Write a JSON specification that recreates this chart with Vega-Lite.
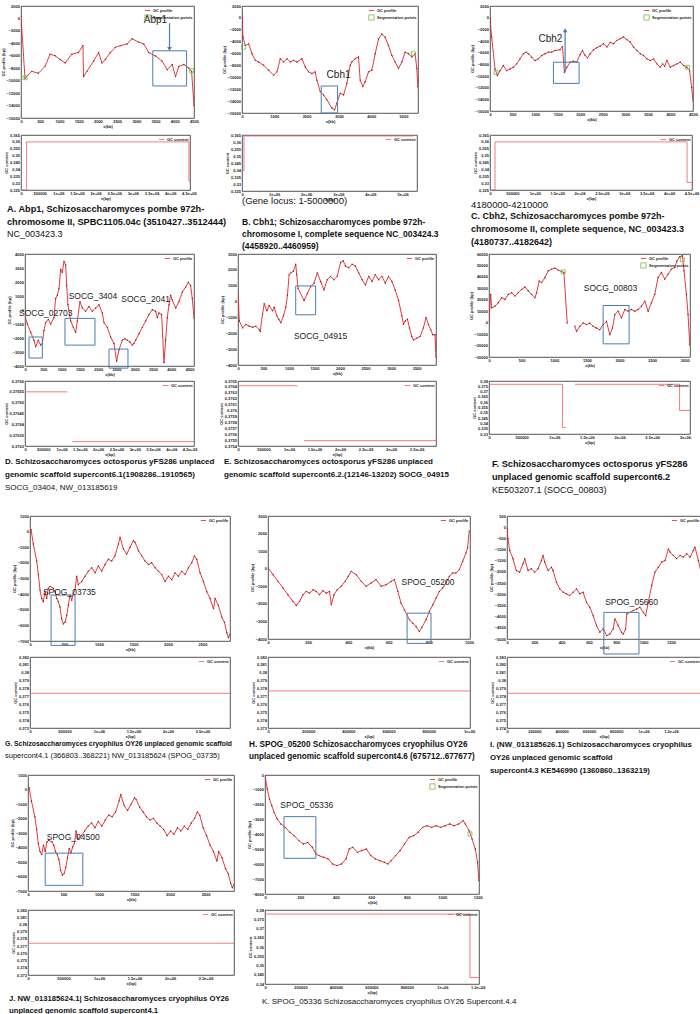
{
"$schema": "https://vega.github.io/schema/vega-lite/v6.json",
"padding": 0,
"config": {
 "view": {"stroke": "#2a2a2a", "strokeWidth": 0.8},
 "axis": {"grid": false, "domain": false, "ticks": false, "labelFont": "Liberation Sans", "labelFontSize": 4, "labelFontWeight": "bold", "labelColor": "#1a1a1a", "labelPadding": 1.5, "titleFont": "Liberation Sans", "titleFontSize": 4, "titleFontWeight": "bold", "titleColor": "#1a1a1a", "titlePadding": 1, "labelOverlap": false, "labelFlush": false},
 "legend": {"orient": "top-right", "labelFont": "Liberation Sans", "labelFontSize": 4, "labelFontWeight": "bold", "labelColor": "#1a1a1a", "symbolSize": 28, "symbolStrokeWidth": 0.8, "padding": 0, "rowPadding": 0, "offset": 1, "labelOffset": 2},
 "title": {"font": "Liberation Sans", "color": "#111111", "anchor": "start", "orient": "bottom", "frame": "group", "subtitleFont": "Liberation Sans", "subtitleColor": "#111111"},
 "text": {"font": "Liberation Sans"}
},
"datasets": {
 "prof": [
  {"p":"A","s":1,"x":0,"y":340},{"p":"A","s":1,"x":104,"y":-9630},{"p":"A","s":1,"x":278,"y":-8500},{"p":"A","s":1,"x":452,"y":-8800},{"p":"A","s":1,"x":626,"y":-7700},{"p":"A","s":1,"x":757,"y":-5750},{"p":"A","s":1,"x":887,"y":-6000},{"p":"A","s":1,"x":1018,"y":-6600},{"p":"A","s":1,"x":1148,"y":-7150},{"p":"A","s":1,"x":1322,"y":-5750},{"p":"A","s":1,"x":1496,"y":-5480},{"p":"A","s":1,"x":1610,"y":-4370},{"p":"A","s":1,"x":1627,"y":-9350},{"p":"A","s":1,"x":1714,"y":-8500},{"p":"A","s":1,"x":1888,"y":-6860},{"p":"A","s":1,"x":2018,"y":-5480},{"p":"A","s":1,"x":2105,"y":-7150},{"p":"A","s":1,"x":2192,"y":-6600},{"p":"A","s":1,"x":2323,"y":-5480},{"p":"A","s":1,"x":2453,"y":-4650},{"p":"A","s":1,"x":2584,"y":-4370},{"p":"A","s":1,"x":2758,"y":-4100},{"p":"A","s":1,"x":2888,"y":-3260},{"p":"A","s":1,"x":3062,"y":-3800},{"p":"A","s":1,"x":3193,"y":-4100},{"p":"A","s":1,"x":3323,"y":-5480},{"p":"A","s":1,"x":3497,"y":-6030},{"p":"A","s":1,"x":3671,"y":-6860},{"p":"A","s":1,"x":3802,"y":-8250},{"p":"A","s":1,"x":3932,"y":-7400},{"p":"A","s":1,"x":4019,"y":-9350},{"p":"A","s":1,"x":4106,"y":-7700},{"p":"A","s":1,"x":4237,"y":-7400},{"p":"A","s":1,"x":4367,"y":-7970},{"p":"A","s":1,"x":4437,"y":-8500},{"p":"A","s":1,"x":4500,"y":-14000},
  {"p":"B","s":1,"x":0,"y":615},{"p":"B","s":1,"x":31,"y":-3260},{"p":"B","s":1,"x":103,"y":-4650},{"p":"B","s":1,"x":206,"y":-4370},{"p":"B","s":1,"x":309,"y":-6030},{"p":"B","s":1,"x":412,"y":-7140},{"p":"B","s":1,"x":515,"y":-7420},{"p":"B","s":1,"x":670,"y":-7970},{"p":"B","s":1,"x":825,"y":-8800},{"p":"B","s":1,"x":979,"y":-9630},{"p":"B","s":1,"x":1082,"y":-9080},{"p":"B","s":1,"x":1186,"y":-6860},{"p":"B","s":1,"x":1289,"y":-7420},{"p":"B","s":1,"x":1392,"y":-6860},{"p":"B","s":1,"x":1495,"y":-7420},{"p":"B","s":1,"x":1598,"y":-7140},{"p":"B","s":1,"x":1701,"y":-7420},{"p":"B","s":1,"x":1856,"y":-6860},{"p":"B","s":1,"x":1959,"y":-8250},{"p":"B","s":1,"x":2062,"y":-9080},{"p":"B","s":1,"x":2165,"y":-9360},{"p":"B","s":1,"x":2268,"y":-9080},{"p":"B","s":1,"x":2320,"y":-10470},{"p":"B","s":1,"x":2423,"y":-12400},{"p":"B","s":1,"x":2526,"y":-12960},{"p":"B","s":1,"x":2629,"y":-13790},{"p":"B","s":1,"x":2784,"y":-15170},{"p":"B","s":1,"x":2866,"y":-15450},{"p":"B","s":1,"x":2938,"y":-14340},{"p":"B","s":1,"x":3041,"y":-12680},{"p":"B","s":1,"x":3145,"y":-12960},{"p":"B","s":1,"x":3248,"y":-11020},{"p":"B","s":1,"x":3351,"y":-7970},{"p":"B","s":1,"x":3402,"y":-7420},{"p":"B","s":1,"x":3505,"y":-6860},{"p":"B","s":1,"x":3608,"y":-6590},{"p":"B","s":1,"x":3660,"y":-10470},{"p":"B","s":1,"x":3742,"y":-11570},{"p":"B","s":1,"x":3815,"y":-10740},{"p":"B","s":1,"x":3918,"y":-9080},{"p":"B","s":1,"x":4021,"y":-8800},{"p":"B","s":1,"x":4124,"y":-6030},{"p":"B","s":1,"x":4227,"y":-3540},{"p":"B","s":1,"x":4330,"y":-2710},{"p":"B","s":1,"x":4433,"y":-3260},{"p":"B","s":1,"x":4536,"y":-4650},{"p":"B","s":1,"x":4640,"y":-6310},{"p":"B","s":1,"x":4743,"y":-7420},{"p":"B","s":1,"x":4846,"y":-8530},{"p":"B","s":1,"x":4949,"y":-7420},{"p":"B","s":1,"x":5052,"y":-5760},{"p":"B","s":1,"x":5155,"y":-6030},{"p":"B","s":1,"x":5258,"y":-6590},{"p":"B","s":1,"x":5361,"y":-6030},{"p":"B","s":1,"x":5413,"y":-8530},{"p":"B","s":1,"x":5444,"y":-11570},
  {"p":"C","s":1,"x":0,"y":-135},{"p":"C","s":1,"x":37,"y":-3310},{"p":"C","s":1,"x":111,"y":-8790},{"p":"C","s":1,"x":163,"y":-9940},{"p":"C","s":1,"x":222,"y":-9080},{"p":"C","s":1,"x":296,"y":-8210},{"p":"C","s":1,"x":370,"y":-9080},{"p":"C","s":1,"x":444,"y":-8790},{"p":"C","s":1,"x":518,"y":-8500},{"p":"C","s":1,"x":592,"y":-7920},{"p":"C","s":1,"x":666,"y":-7060},{"p":"C","s":1,"x":740,"y":-6190},{"p":"C","s":1,"x":799,"y":-5900},{"p":"C","s":1,"x":851,"y":-6190},{"p":"C","s":1,"x":925,"y":-6770},{"p":"C","s":1,"x":999,"y":-7350},{"p":"C","s":1,"x":1073,"y":-7060},{"p":"C","s":1,"x":1147,"y":-6480},{"p":"C","s":1,"x":1221,"y":-6190},{"p":"C","s":1,"x":1295,"y":-5900},{"p":"C","s":1,"x":1369,"y":-5900},{"p":"C","s":1,"x":1443,"y":-5620},{"p":"C","s":1,"x":1554,"y":-5500},{"p":"C","s":1,"x":1606,"y":-4920},{"p":"C","s":1,"x":1650,"y":-9370},{"p":"C","s":1,"x":1702,"y":-8500},{"p":"C","s":1,"x":1776,"y":-7640},{"p":"C","s":1,"x":1850,"y":-7460},{"p":"C","s":1,"x":1924,"y":-7640},{"p":"C","s":1,"x":1998,"y":-6310},{"p":"C","s":1,"x":2050,"y":-5620},{"p":"C","s":1,"x":2109,"y":-6480},{"p":"C","s":1,"x":2161,"y":-6890},{"p":"C","s":1,"x":2220,"y":-6190},{"p":"C","s":1,"x":2294,"y":-5500},{"p":"C","s":1,"x":2368,"y":-5150},{"p":"C","s":1,"x":2442,"y":-4870},{"p":"C","s":1,"x":2516,"y":-4460},{"p":"C","s":1,"x":2590,"y":-5040},{"p":"C","s":1,"x":2664,"y":-4230},{"p":"C","s":1,"x":2738,"y":-4460},{"p":"C","s":1,"x":2812,"y":-3890},{"p":"C","s":1,"x":2886,"y":-3600},{"p":"C","s":1,"x":2960,"y":-3310},{"p":"C","s":1,"x":3034,"y":-3770},{"p":"C","s":1,"x":3108,"y":-4170},{"p":"C","s":1,"x":3182,"y":-5040},{"p":"C","s":1,"x":3256,"y":-5620},{"p":"C","s":1,"x":3330,"y":-6190},{"p":"C","s":1,"x":3404,"y":-6480},{"p":"C","s":1,"x":3478,"y":-7060},{"p":"C","s":1,"x":3552,"y":-7350},{"p":"C","s":1,"x":3626,"y":-7060},{"p":"C","s":1,"x":3700,"y":-7920},{"p":"C","s":1,"x":3774,"y":-8500},{"p":"C","s":1,"x":3826,"y":-7920},{"p":"C","s":1,"x":3870,"y":-8330},{"p":"C","s":1,"x":3922,"y":-7350},{"p":"C","s":1,"x":3996,"y":-8500},{"p":"C","s":1,"x":4070,"y":-8210},{"p":"C","s":1,"x":4144,"y":-7920},{"p":"C","s":1,"x":4218,"y":-7640},{"p":"C","s":1,"x":4292,"y":-8210},{"p":"C","s":1,"x":4366,"y":-8500},{"p":"C","s":1,"x":4425,"y":-9080},{"p":"C","s":1,"x":4470,"y":-11960},{"p":"C","s":1,"x":4500,"y":-14270},
  {"p":"D","s":1,"x":0,"y":-440},{"p":"D","s":1,"x":64,"y":-1010},{"p":"D","s":1,"x":155,"y":-1590},{"p":"D","s":1,"x":246,"y":-2160},{"p":"D","s":1,"x":292,"y":-2620},{"p":"D","s":1,"x":364,"y":-2160},{"p":"D","s":1,"x":428,"y":-2510},{"p":"D","s":1,"x":474,"y":-2390},{"p":"D","s":1,"x":519,"y":-1470},{"p":"D","s":1,"x":565,"y":-900},{"p":"D","s":1,"x":638,"y":-670},{"p":"D","s":1,"x":701,"y":-1010},{"p":"D","s":1,"x":793,"y":-550},{"p":"D","s":1,"x":838,"y":830},{"p":"D","s":1,"x":884,"y":1060},{"p":"D","s":1,"x":929,"y":1520},{"p":"D","s":1,"x":975,"y":2900},{"p":"D","s":1,"x":1020,"y":2670},{"p":"D","s":1,"x":1066,"y":3470},{"p":"D","s":1,"x":1111,"y":3240},{"p":"D","s":1,"x":1139,"y":1750},{"p":"D","s":1,"x":1175,"y":370},{"p":"D","s":1,"x":1248,"y":-780},{"p":"D","s":1,"x":1321,"y":-1240},{"p":"D","s":1,"x":1385,"y":-1590},{"p":"D","s":1,"x":1430,"y":-780},{"p":"D","s":1,"x":1503,"y":600},{"p":"D","s":1,"x":1567,"y":140},{"p":"D","s":1,"x":1658,"y":-90},{"p":"D","s":1,"x":1749,"y":250},{"p":"D","s":1,"x":1840,"y":-90},{"p":"D","s":1,"x":1931,"y":140},{"p":"D","s":1,"x":2022,"y":370},{"p":"D","s":1,"x":2114,"y":-210},{"p":"D","s":1,"x":2159,"y":-900},{"p":"D","s":1,"x":2250,"y":-1240},{"p":"D","s":1,"x":2341,"y":-1930},{"p":"D","s":1,"x":2432,"y":-2390},{"p":"D","s":1,"x":2505,"y":-3660},{"p":"D","s":1,"x":2569,"y":-2850},{"p":"D","s":1,"x":2660,"y":-2160},{"p":"D","s":1,"x":2733,"y":-2050},{"p":"D","s":1,"x":2797,"y":-2160},{"p":"D","s":1,"x":2869,"y":-2280},{"p":"D","s":1,"x":2933,"y":-2510},{"p":"D","s":1,"x":2979,"y":-2390},{"p":"D","s":1,"x":3025,"y":-2160},{"p":"D","s":1,"x":3116,"y":-1700},{"p":"D","s":1,"x":3207,"y":-1240},{"p":"D","s":1,"x":3298,"y":-780},{"p":"D","s":1,"x":3389,"y":-320},{"p":"D","s":1,"x":3480,"y":20},{"p":"D","s":1,"x":3571,"y":-90},{"p":"D","s":1,"x":3617,"y":-550},{"p":"D","s":1,"x":3662,"y":-210},{"p":"D","s":1,"x":3735,"y":-320},{"p":"D","s":1,"x":3799,"y":-3770},{"p":"D","s":1,"x":3844,"y":-2160},{"p":"D","s":1,"x":3890,"y":-550},{"p":"D","s":1,"x":3935,"y":370},{"p":"D","s":1,"x":3981,"y":1060},{"p":"D","s":1,"x":4027,"y":710},{"p":"D","s":1,"x":4118,"y":140},{"p":"D","s":1,"x":4209,"y":600},{"p":"D","s":1,"x":4300,"y":1290},{"p":"D","s":1,"x":4391,"y":1630},{"p":"D","s":1,"x":4463,"y":1980},{"p":"D","s":1,"x":4527,"y":1750},{"p":"D","s":1,"x":4573,"y":830},{"p":"D","s":1,"x":4620,"y":-550},
  {"p":"E","s":1,"x":0,"y":500},{"p":"E","s":1,"x":26,"y":-1230},{"p":"E","s":1,"x":91,"y":-1660},{"p":"E","s":1,"x":156,"y":-1440},{"p":"E","s":1,"x":221,"y":-1550},{"p":"E","s":1,"x":286,"y":-1620},{"p":"E","s":1,"x":351,"y":-1550},{"p":"E","s":1,"x":416,"y":-1770},{"p":"E","s":1,"x":436,"y":-1880},{"p":"E","s":1,"x":481,"y":-790},{"p":"E","s":1,"x":514,"y":-140},{"p":"E","s":1,"x":566,"y":-580},{"p":"E","s":1,"x":611,"y":-250},{"p":"E","s":1,"x":676,"y":-580},{"p":"E","s":1,"x":709,"y":-360},{"p":"E","s":1,"x":761,"y":-900},{"p":"E","s":1,"x":800,"y":-1120},{"p":"E","s":1,"x":839,"y":-1330},{"p":"E","s":1,"x":891,"y":-900},{"p":"E","s":1,"x":937,"y":-360},{"p":"E","s":1,"x":969,"y":400},{"p":"E","s":1,"x":1002,"y":1700},{"p":"E","s":1,"x":1034,"y":1810},{"p":"E","s":1,"x":1086,"y":1920},{"p":"E","s":1,"x":1131,"y":2350},{"p":"E","s":1,"x":1151,"y":1700},{"p":"E","s":1,"x":1177,"y":830},{"p":"E","s":1,"x":1294,"y":70},{"p":"E","s":1,"x":1359,"y":510},{"p":"E","s":1,"x":1424,"y":940},{"p":"E","s":1,"x":1489,"y":1160},{"p":"E","s":1,"x":1554,"y":1810},{"p":"E","s":1,"x":1619,"y":1270},{"p":"E","s":1,"x":1684,"y":730},{"p":"E","s":1,"x":1749,"y":1380},{"p":"E","s":1,"x":1814,"y":1590},{"p":"E","s":1,"x":1879,"y":1380},{"p":"E","s":1,"x":1944,"y":1590},{"p":"E","s":1,"x":2009,"y":2460},{"p":"E","s":1,"x":2061,"y":2570},{"p":"E","s":1,"x":2106,"y":2240},{"p":"E","s":1,"x":2171,"y":2130},{"p":"E","s":1,"x":2236,"y":2350},{"p":"E","s":1,"x":2301,"y":2240},{"p":"E","s":1,"x":2366,"y":1810},{"p":"E","s":1,"x":2431,"y":1380},{"p":"E","s":1,"x":2496,"y":1050},{"p":"E","s":1,"x":2561,"y":1590},{"p":"E","s":1,"x":2626,"y":1270},{"p":"E","s":1,"x":2691,"y":1700},{"p":"E","s":1,"x":2756,"y":1380},{"p":"E","s":1,"x":2821,"y":1590},{"p":"E","s":1,"x":2886,"y":1160},{"p":"E","s":1,"x":2951,"y":1590},{"p":"E","s":1,"x":3016,"y":1270},{"p":"E","s":1,"x":3081,"y":730},{"p":"E","s":1,"x":3146,"y":70},{"p":"E","s":1,"x":3211,"y":-900},{"p":"E","s":1,"x":3243,"y":-1440},{"p":"E","s":1,"x":3276,"y":-1230},{"p":"E","s":1,"x":3321,"y":-1120},{"p":"E","s":1,"x":3360,"y":-1660},{"p":"E","s":1,"x":3406,"y":-2200},{"p":"E","s":1,"x":3438,"y":-2420},{"p":"E","s":1,"x":3503,"y":-2310},{"p":"E","s":1,"x":3568,"y":-2200},{"p":"E","s":1,"x":3633,"y":-1660},{"p":"E","s":1,"x":3685,"y":-1010},{"p":"E","s":1,"x":3731,"y":-1440},{"p":"E","s":1,"x":3776,"y":-1770},{"p":"E","s":1,"x":3815,"y":-2090},{"p":"E","s":1,"x":3861,"y":-2090},{"p":"E","s":1,"x":3880,"y":-3500},
  {"p":"F","s":1,"x":0,"y":1200},{"p":"F","s":1,"x":26,"y":24700},{"p":"F","s":1,"x":41,"y":12900},{"p":"F","s":1,"x":92,"y":14400},{"p":"F","s":1,"x":143,"y":17400},{"p":"F","s":1,"x":194,"y":21800},{"p":"F","s":1,"x":245,"y":20300},{"p":"F","s":1,"x":296,"y":24700},{"p":"F","s":1,"x":347,"y":26200},{"p":"F","s":1,"x":398,"y":23200},{"p":"F","s":1,"x":449,"y":26200},{"p":"F","s":1,"x":500,"y":29100},{"p":"F","s":1,"x":551,"y":31200},{"p":"F","s":1,"x":602,"y":27700},{"p":"F","s":1,"x":653,"y":24700},{"p":"F","s":1,"x":704,"y":21800},{"p":"F","s":1,"x":729,"y":26200},{"p":"F","s":1,"x":770,"y":36500},{"p":"F","s":1,"x":806,"y":35000},{"p":"F","s":1,"x":857,"y":39400},{"p":"F","s":1,"x":908,"y":45300},{"p":"F","s":1,"x":959,"y":46800},{"p":"F","s":1,"x":1010,"y":47700},{"p":"F","s":1,"x":1061,"y":45900},{"p":"F","s":1,"x":1112,"y":44700},{"p":"F","s":1,"x":1148,"y":43800},{"p":"F","s":1,"x":1199,"y":-300},
  {"p":"F","s":2,"x":1316,"y":-3200},{"p":"F","s":2,"x":1341,"y":-7600},{"p":"F","s":2,"x":1392,"y":-3200},{"p":"F","s":2,"x":1443,"y":-300},{"p":"F","s":2,"x":1494,"y":-1700},{"p":"F","s":2,"x":1545,"y":-300},{"p":"F","s":2,"x":1596,"y":-3200},{"p":"F","s":2,"x":1647,"y":-4700},{"p":"F","s":2,"x":1698,"y":-6200},{"p":"F","s":2,"x":1749,"y":-1700},{"p":"F","s":2,"x":1800,"y":1200},{"p":"F","s":2,"x":1851,"y":-10600},{"p":"F","s":2,"x":1892,"y":-4700},{"p":"F","s":2,"x":1928,"y":7100},{"p":"F","s":2,"x":1979,"y":10000},{"p":"F","s":2,"x":2030,"y":4100},{"p":"F","s":2,"x":2081,"y":11500},{"p":"F","s":2,"x":2132,"y":10000},{"p":"F","s":2,"x":2183,"y":11500},{"p":"F","s":2,"x":2234,"y":10000},{"p":"F","s":2,"x":2285,"y":11500},{"p":"F","s":2,"x":2336,"y":14400},{"p":"F","s":2,"x":2387,"y":18800},{"p":"F","s":2,"x":2438,"y":10000},{"p":"F","s":2,"x":2489,"y":17400},{"p":"F","s":2,"x":2540,"y":24700},{"p":"F","s":2,"x":2591,"y":39400},{"p":"F","s":2,"x":2642,"y":43800},{"p":"F","s":2,"x":2693,"y":38000},{"p":"F","s":2,"x":2744,"y":42400},{"p":"F","s":2,"x":2795,"y":46800},{"p":"F","s":2,"x":2846,"y":48200},{"p":"F","s":2,"x":2882,"y":54100},{"p":"F","s":2,"x":2923,"y":57600},{"p":"F","s":2,"x":2964,"y":58500},{"p":"F","s":2,"x":2989,"y":45300},{"p":"F","s":2,"x":3025,"y":24700},{"p":"F","s":2,"x":3050,"y":7100},{"p":"F","s":2,"x":3076,"y":-19400},
  {"p":"G","s":1,"x":0,"y":-25},{"p":"G","s":1,"x":15,"y":130},{"p":"G","s":1,"x":48,"y":-790},{"p":"G","s":1,"x":97,"y":-1880},{"p":"G","s":1,"x":121,"y":-2750},{"p":"G","s":1,"x":145,"y":-3730},{"p":"G","s":1,"x":169,"y":-4280},{"p":"G","s":1,"x":193,"y":-4490},{"p":"G","s":1,"x":218,"y":-3840},{"p":"G","s":1,"x":242,"y":-4280},{"p":"G","s":1,"x":266,"y":-3620},{"p":"G","s":1,"x":290,"y":-3510},{"p":"G","s":1,"x":339,"y":-3620},{"p":"G","s":1,"x":363,"y":-3840},{"p":"G","s":1,"x":387,"y":-4280},{"p":"G","s":1,"x":411,"y":-4490},{"p":"G","s":1,"x":435,"y":-4820},{"p":"G","s":1,"x":459,"y":-5580},{"p":"G","s":1,"x":484,"y":-5910},{"p":"G","s":1,"x":508,"y":-5800},{"p":"G","s":1,"x":532,"y":-5370},{"p":"G","s":1,"x":556,"y":-4710},{"p":"G","s":1,"x":580,"y":-4060},{"p":"G","s":1,"x":605,"y":-4390},{"p":"G","s":1,"x":629,"y":-3950},{"p":"G","s":1,"x":653,"y":-3730},{"p":"G","s":1,"x":677,"y":-2860},{"p":"G","s":1,"x":701,"y":-3400},{"p":"G","s":1,"x":750,"y":-3190},{"p":"G","s":1,"x":798,"y":-2860},{"p":"G","s":1,"x":846,"y":-2530},{"p":"G","s":1,"x":895,"y":-2310},{"p":"G","s":1,"x":943,"y":-2640},{"p":"G","s":1,"x":991,"y":-2200},{"p":"G","s":1,"x":1040,"y":-2530},{"p":"G","s":1,"x":1088,"y":-2100},{"p":"G","s":1,"x":1136,"y":-1770},{"p":"G","s":1,"x":1185,"y":-1880},{"p":"G","s":1,"x":1233,"y":-1550},{"p":"G","s":1,"x":1282,"y":-790},{"p":"G","s":1,"x":1306,"y":-350},{"p":"G","s":1,"x":1354,"y":-1110},{"p":"G","s":1,"x":1402,"y":-1440},{"p":"G","s":1,"x":1451,"y":-1010},{"p":"G","s":1,"x":1499,"y":-570},{"p":"G","s":1,"x":1523,"y":-680},{"p":"G","s":1,"x":1572,"y":-1220},{"p":"G","s":1,"x":1620,"y":-1550},{"p":"G","s":1,"x":1668,"y":-1880},{"p":"G","s":1,"x":1717,"y":-2100},{"p":"G","s":1,"x":1765,"y":-1990},{"p":"G","s":1,"x":1814,"y":-2310},{"p":"G","s":1,"x":1862,"y":-2530},{"p":"G","s":1,"x":1910,"y":-2750},{"p":"G","s":1,"x":1959,"y":-3190},{"p":"G","s":1,"x":2007,"y":-2860},{"p":"G","s":1,"x":2055,"y":-3080},{"p":"G","s":1,"x":2104,"y":-2640},{"p":"G","s":1,"x":2152,"y":-2860},{"p":"G","s":1,"x":2200,"y":-2530},{"p":"G","s":1,"x":2249,"y":-2750},{"p":"G","s":1,"x":2297,"y":-2310},{"p":"G","s":1,"x":2345,"y":-1990},{"p":"G","s":1,"x":2384,"y":-1550},{"p":"G","s":1,"x":2418,"y":-1770},{"p":"G","s":1,"x":2466,"y":-2640},{"p":"G","s":1,"x":2515,"y":-3190},{"p":"G","s":1,"x":2563,"y":-3840},{"p":"G","s":1,"x":2611,"y":-4280},{"p":"G","s":1,"x":2660,"y":-4930},{"p":"G","s":1,"x":2684,"y":-4280},{"p":"G","s":1,"x":2732,"y":-4710},{"p":"G","s":1,"x":2781,"y":-5470},{"p":"G","s":1,"x":2819,"y":-5800},{"p":"G","s":1,"x":2853,"y":-6460},{"p":"G","s":1,"x":2877,"y":-6780},{"p":"G","s":1,"x":2900,"y":-6570},
  {"p":"H","s":1,"x":0,"y":44},{"p":"H","s":1,"x":25,"y":-340},{"p":"H","s":1,"x":50,"y":-720},{"p":"H","s":1,"x":75,"y":-1100},{"p":"H","s":1,"x":99,"y":-1480},{"p":"H","s":1,"x":124,"y":-1860},{"p":"H","s":1,"x":141,"y":-2090},{"p":"H","s":1,"x":157,"y":-1860},{"p":"H","s":1,"x":174,"y":-1480},{"p":"H","s":1,"x":190,"y":-1290},{"p":"H","s":1,"x":207,"y":-1390},{"p":"H","s":1,"x":224,"y":-1200},{"p":"H","s":1,"x":240,"y":-1290},{"p":"H","s":1,"x":256,"y":-1480},{"p":"H","s":1,"x":273,"y":-1250},{"p":"H","s":1,"x":290,"y":-1390},{"p":"H","s":1,"x":306,"y":-1290},{"p":"H","s":1,"x":315,"y":-2050},{"p":"H","s":1,"x":328,"y":-1480},{"p":"H","s":1,"x":344,"y":-1200},{"p":"H","s":1,"x":364,"y":-1000},{"p":"H","s":1,"x":384,"y":-720},{"p":"H","s":1,"x":399,"y":-430},{"p":"H","s":1,"x":414,"y":-150},{"p":"H","s":1,"x":439,"y":-340},{"p":"H","s":1,"x":464,"y":-720},{"p":"H","s":1,"x":488,"y":-1000},{"p":"H","s":1,"x":513,"y":-810},{"p":"H","s":1,"x":538,"y":-620},{"p":"H","s":1,"x":563,"y":-1000},{"p":"H","s":1,"x":588,"y":-910},{"p":"H","s":1,"x":613,"y":-720},{"p":"H","s":1,"x":629,"y":-620},{"p":"H","s":1,"x":646,"y":-1290},{"p":"H","s":1,"x":662,"y":-1960},{"p":"H","s":1,"x":679,"y":-2340},{"p":"H","s":1,"x":704,"y":-2910},{"p":"H","s":1,"x":720,"y":-3100},{"p":"H","s":1,"x":737,"y":-3290},{"p":"H","s":1,"x":753,"y":-3580},{"p":"H","s":1,"x":765,"y":-3350},{"p":"H","s":1,"x":786,"y":-2910},{"p":"H","s":1,"x":803,"y":-2430},{"p":"H","s":1,"x":820,"y":-2050},{"p":"H","s":1,"x":836,"y":-1670},{"p":"H","s":1,"x":853,"y":-1290},{"p":"H","s":1,"x":869,"y":-1100},{"p":"H","s":1,"x":886,"y":-810},{"p":"H","s":1,"x":902,"y":-430},{"p":"H","s":1,"x":919,"y":-240},{"p":"H","s":1,"x":935,"y":-240},{"p":"H","s":1,"x":952,"y":-50},{"p":"H","s":1,"x":969,"y":430},{"p":"H","s":1,"x":985,"y":900},{"p":"H","s":1,"x":993,"y":1190},{"p":"H","s":1,"x":1001,"y":2140},
  {"p":"I","s":1,"x":0,"y":-70},{"p":"I","s":1,"x":7,"y":-520},{"p":"I","s":1,"x":20,"y":-1040},{"p":"I","s":1,"x":44,"y":-1410},{"p":"I","s":1,"x":68,"y":-1940},{"p":"I","s":1,"x":93,"y":-2010},{"p":"I","s":1,"x":117,"y":-1640},{"p":"I","s":1,"x":130,"y":-1410},{"p":"I","s":1,"x":154,"y":-1940},{"p":"I","s":1,"x":178,"y":-1860},{"p":"I","s":1,"x":203,"y":-2010},{"p":"I","s":1,"x":227,"y":-1860},{"p":"I","s":1,"x":252,"y":-1490},{"p":"I","s":1,"x":264,"y":-1260},{"p":"I","s":1,"x":276,"y":-1560},{"p":"I","s":1,"x":301,"y":-1940},{"p":"I","s":1,"x":325,"y":-1790},{"p":"I","s":1,"x":337,"y":-1940},{"p":"I","s":1,"x":362,"y":-2460},{"p":"I","s":1,"x":386,"y":-2760},{"p":"I","s":1,"x":411,"y":-2910},{"p":"I","s":1,"x":435,"y":-2980},{"p":"I","s":1,"x":460,"y":-3060},{"p":"I","s":1,"x":484,"y":-2910},{"p":"I","s":1,"x":509,"y":-2760},{"p":"I","s":1,"x":533,"y":-2980},{"p":"I","s":1,"x":557,"y":-2910},{"p":"I","s":1,"x":582,"y":-3360},{"p":"I","s":1,"x":606,"y":-3580},{"p":"I","s":1,"x":631,"y":-3960},{"p":"I","s":1,"x":655,"y":-4400},{"p":"I","s":1,"x":680,"y":-4700},{"p":"I","s":1,"x":704,"y":-4550},{"p":"I","s":1,"x":729,"y":-4850},{"p":"I","s":1,"x":753,"y":-4780},{"p":"I","s":1,"x":777,"y":-4550},{"p":"I","s":1,"x":790,"y":-4100},{"p":"I","s":1,"x":814,"y":-4400},{"p":"I","s":1,"x":838,"y":-4700},{"p":"I","s":1,"x":851,"y":-4780},{"p":"I","s":1,"x":868,"y":-4550},{"p":"I","s":1,"x":877,"y":-3880},{"p":"I","s":1,"x":900,"y":-3810},{"p":"I","s":1,"x":924,"y":-3730},{"p":"I","s":1,"x":949,"y":-3660},{"p":"I","s":1,"x":973,"y":-3580},{"p":"I","s":1,"x":998,"y":-3810},{"p":"I","s":1,"x":1015,"y":-3960},{"p":"I","s":1,"x":1034,"y":-3360},{"p":"I","s":1,"x":1059,"y":-2610},{"p":"I","s":1,"x":1083,"y":-2010},{"p":"I","s":1,"x":1108,"y":-1790},{"p":"I","s":1,"x":1132,"y":-1560},{"p":"I","s":1,"x":1157,"y":-1490},{"p":"I","s":1,"x":1181,"y":-970},{"p":"I","s":1,"x":1193,"y":-1110},{"p":"I","s":1,"x":1217,"y":-1260},{"p":"I","s":1,"x":1242,"y":-1410},{"p":"I","s":1,"x":1266,"y":-1260},{"p":"I","s":1,"x":1291,"y":-1340},{"p":"I","s":1,"x":1315,"y":-1190},{"p":"I","s":1,"x":1340,"y":-1340},{"p":"I","s":1,"x":1364,"y":-1040},{"p":"I","s":1,"x":1376,"y":-890},{"p":"I","s":1,"x":1401,"y":-1490},{"p":"I","s":1,"x":1420,"y":-2010},
  {"p":"K","s":1,"x":0,"y":-45},{"p":"K","s":1,"x":13,"y":-940},{"p":"K","s":1,"x":25,"y":-1610},{"p":"K","s":1,"x":38,"y":-2060},{"p":"K","s":1,"x":51,"y":-2510},{"p":"K","s":1,"x":69,"y":-2960},{"p":"K","s":1,"x":89,"y":-3290},{"p":"K","s":1,"x":114,"y":-3520},{"p":"K","s":1,"x":140,"y":-3850},{"p":"K","s":1,"x":165,"y":-4080},{"p":"K","s":1,"x":191,"y":-4410},{"p":"K","s":1,"x":216,"y":-4640},{"p":"K","s":1,"x":241,"y":-4530},{"p":"K","s":1,"x":267,"y":-4860},{"p":"K","s":1,"x":287,"y":-5310},{"p":"K","s":1,"x":305,"y":-5420},{"p":"K","s":1,"x":330,"y":-5530},{"p":"K","s":1,"x":356,"y":-5640},{"p":"K","s":1,"x":381,"y":-5980},{"p":"K","s":1,"x":406,"y":-6090},{"p":"K","s":1,"x":432,"y":-5980},{"p":"K","s":1,"x":457,"y":-5640},{"p":"K","s":1,"x":475,"y":-4970},{"p":"K","s":1,"x":495,"y":-4860},{"p":"K","s":1,"x":521,"y":-5200},{"p":"K","s":1,"x":546,"y":-5080},{"p":"K","s":1,"x":572,"y":-4970},{"p":"K","s":1,"x":597,"y":-5420},{"p":"K","s":1,"x":622,"y":-5640},{"p":"K","s":1,"x":648,"y":-5760},{"p":"K","s":1,"x":673,"y":-5870},{"p":"K","s":1,"x":693,"y":-5980},{"p":"K","s":1,"x":711,"y":-5760},{"p":"K","s":1,"x":737,"y":-5420},{"p":"K","s":1,"x":762,"y":-5080},{"p":"K","s":1,"x":787,"y":-4640},{"p":"K","s":1,"x":813,"y":-4190},{"p":"K","s":1,"x":838,"y":-4080},{"p":"K","s":1,"x":864,"y":-3850},{"p":"K","s":1,"x":889,"y":-3520},{"p":"K","s":1,"x":914,"y":-3410},{"p":"K","s":1,"x":940,"y":-3520},{"p":"K","s":1,"x":965,"y":-3410},{"p":"K","s":1,"x":991,"y":-3520},{"p":"K","s":1,"x":1016,"y":-3410},{"p":"K","s":1,"x":1041,"y":-3290},{"p":"K","s":1,"x":1067,"y":-3410},{"p":"K","s":1,"x":1092,"y":-3290},{"p":"K","s":1,"x":1118,"y":-3070},{"p":"K","s":1,"x":1130,"y":-3290},{"p":"K","s":1,"x":1151,"y":-3740},{"p":"K","s":1,"x":1168,"y":-4300},{"p":"K","s":1,"x":1186,"y":-4970},{"p":"K","s":1,"x":1199,"y":-5870},{"p":"K","s":1,"x":1206,"y":-7100}
 ],
 "cont": [
  {"p":"A","s":1,"x":0,"y":0.325},{"p":"A","s":1,"x":152000,"y":0.36},{"p":"A","s":1,"x":4500000,"y":0.3315},{"p":"A","s":1,"x":4530000,"y":0.3315},
  {"p":"B","s":1,"x":0,"y":0.3395},{"p":"B","s":1,"x":60000,"y":0.3643},{"p":"B","s":1,"x":5330000,"y":0.3648},{"p":"B","s":1,"x":5450000,"y":0.3648},
  {"p":"C","s":1,"x":0,"y":0.325},{"p":"C","s":1,"x":112000,"y":0.36},{"p":"C","s":1,"x":4400000,"y":0.3305},{"p":"C","s":1,"x":4510000,"y":0.3305},
  {"p":"D","s":1,"x":0,"y":0.37655},{"p":"D","s":1,"x":1157000,"y":0.37655},{"p":"D","s":2,"x":1294000,"y":0.37632},{"p":"D","s":2,"x":4620000,"y":0.37632},
  {"p":"E","s":1,"x":0,"y":0.37642},{"p":"E","s":1,"x":1163000,"y":0.37642},{"p":"E","s":2,"x":1294000,"y":0.37549},{"p":"E","s":2,"x":3880000,"y":0.37549},
  {"p":"F","s":1,"x":0,"y":0.3769},{"p":"F","s":1,"x":1127000,"y":0.3361},{"p":"F","s":1,"x":1178000,"y":0.3361},{"p":"F","s":2,"x":1316000,"y":0.3769},{"p":"F","s":2,"x":2920000,"y":0.3522},{"p":"F","s":2,"x":3080000,"y":0.3522},
  {"p":"G","s":1,"x":0,"y":0.3774},{"p":"G","s":1,"x":2900000,"y":0.3774},
  {"p":"H","s":1,"x":0,"y":0.3777},{"p":"H","s":1,"x":1005000,"y":0.3777},
  {"p":"I","s":1,"x":0,"y":0.3784},{"p":"I","s":1,"x":1420000,"y":0.3784},
  {"p":"K","s":1,"x":0,"y":0.3778},{"p":"K","s":1,"x":1156000,"y":0.3435},{"p":"K","s":1,"x":1207000,"y":0.3435}
 ],
 "box": [
  {"p":"A","x":3428,"x2":4307,"y":-5200,"y2":-10850},
  {"p":"B","x":2454,"x2":2959,"y":-11460,"y2":-16000},
  {"p":"C","x":1406,"x2":1976,"y":-7640,"y2":-11270},
  {"p":"D","x":109,"x2":474,"y":-1930,"y2":-3430},{"p":"D","x":1093,"x2":1913,"y":-600,"y2":-2510},{"p":"D","x":2296,"x2":2815,"y":-2790,"y2":-4150},
  {"p":"E","x":1131,"x2":1521,"y":985,"y2":-835},
  {"p":"F","x":1749,"x2":2147,"y":15000,"y2":-18500},
  {"p":"G","x":305,"x2":653,"y":-4060,"y2":-7280},
  {"p":"H","x":692,"x2":811,"y":-2530,"y2":-4250},
  {"p":"I","x":709,"x2":966,"y":-3810,"y2":-5670},
  {"p":"J","x":242,"x2":772,"y":-4390,"y2":-6610},
  {"p":"K","x":107,"x2":287,"y":-2800,"y2":-5600}
 ],
 "lab": [
  {"p":"A","x":3497,"y":-327,"t":"Abp1"},
  {"p":"B","x":2990,"y":-9630,"t":"Cbh1"},
  {"p":"C","x":1339,"y":-3600,"t":"Cbh2"},
  {"p":"D","x":565,"y":-210,"t":"SOCG_02703"},{"p":"D","x":1858,"y":1010,"t":"SOCG_3404"},{"p":"D","x":3298,"y":780,"t":"SOCG_2041"},
  {"p":"E","x":1619,"y":-2200,"t":"SOCG_04915"},
  {"p":"F","x":1862,"y":30000,"t":"SOCG_00803"},
  {"p":"G","x":571,"y":-3860,"t":"SPOG_03735"},
  {"p":"H","x":796,"y":-757,"t":"SPOG_05200"},
  {"p":"I","x":912,"y":-3360,"t":"SPOG_05660"},
  {"p":"J","x":637,"y":-3265,"t":"SPOG_04500"},
  {"p":"K","x":236,"y":-1990,"t":"SPOG_05336"}
 ],
 "seg": [
  {"p":"A","x":104,"y":-9520},{"p":"A","x":4437,"y":-8400},
  {"p":"B","x":52,"y":-4920},{"p":"B","x":5310,"y":-6030},
  {"p":"C","x":133,"y":-9370},{"p":"C","x":4380,"y":-8500},
  {"p":"F","x":1137,"y":44400},{"p":"F","x":2964,"y":55000},
  {"p":"K","x":1156,"y":-3960}
 ],
 "arr": [
  {"p":"A","x":3863,"y":-770,"y2":-4925},
  {"p":"C","x":1665,"y":-9370,"y2":-2150}
 ]
},
"resolve": {"scale": {"color": "independent", "shape": "independent"}, "legend": {"color": "independent", "shape": "independent"}},
"spacing": -3,
"vconcat": [
 {"columns": 6, "align": "each", "bounds": "flush", "spacing": 0,
  "resolve": {"scale": {"color": "independent", "shape": "independent"}, "legend": {"color": "independent", "shape": "independent"}},
  "concat": [
  {"width":19,"height":1,"data":{"values":[{}]},"mark":{"type":"text","text":""},"view":{"stroke":null}},
  {"width":173,"height":112,
   "encoding":{"x":{"field":"x","type":"quantitative","title":"x(kb)","scale":{"domain":[0,4500],"nice":false,"zero":false},"axis":{"values":[0,500,1000,1500,2000,2500,3000,3500,4000,4500],"format":"d"}},"y":{"field":"y","type":"quantitative","title":"GC profile (bp)","scale":{"domain":[-16000,2000],"nice":false,"zero":false},"axis":{"values":[-16000,-14000,-12000,-10000,-8000,-6000,-4000,-2000,0,2000],"format":"d"}}},
   "layer":[
    {"data":{"name":"prof"},"transform":[{"filter":"datum.p=='A'"}],"mark":{"type":"line","strokeWidth":0.9,"clip":true},"encoding":{"detail":{"field":"s","type":"nominal"},"color":{"datum":"GC profile","scale":{"domain":["GC profile","Segmentation points"],"range":["#e3242b","#77bb44"]},"legend":{"title":null,"symbolType":"stroke","encode":{"symbols":{"update":{"shape":{"signal":"datum.value === 'Segmentation points' ? 'square' : 'stroke'"},"fill":{"value":"transparent"}}}}}}}},
    {"data":{"name":"prof"},"transform":[{"filter":"datum.p=='A'"}],"mark":{"type":"point","filled":true,"size":2,"color":"#7a1414","opacity":0.9,"clip":true}},
    {"data":{"name":"seg"},"transform":[{"filter":"datum.p=='A'"}],"mark":{"type":"point","shape":"square","filled":false,"size":16,"strokeWidth":0.8,"opacity":1},"encoding":{"color":{"datum":"Segmentation points"}}},
    {"data":{"name":"box"},"transform":[{"filter":"datum.p=='A'"}],"mark":{"type":"rect","fillOpacity":0,"stroke":"#4a7eb0","strokeWidth":1},"encoding":{"x2":{"field":"x2"},"y2":{"field":"y2"}}},
    {"data":{"name":"arr"},"transform":[{"filter":"datum.p=='A'"}],"mark":{"type":"rule","color":"#4a7eb0","strokeWidth":1.2},"encoding":{"y2":{"field":"y2"}}},
    {"data":{"name":"arr"},"transform":[{"filter":"datum.p=='A'"}],"mark":{"type":"point","shape":"triangle-down","filled":true,"color":"#4a7eb0","size":22,"opacity":1},"encoding":{"y":{"field":"y2","type":"quantitative","title":"GC profile (bp)"}}},
    {"data":{"name":"lab"},"transform":[{"filter":"datum.p=='A'"}],"mark":{"type":"text","fontSize":10,"color":"#222222"},"encoding":{"text":{"field":"t"}}}
   ]},
  {"width":48,"height":1,"data":{"values":[{}]},"mark":{"type":"text","text":""},"view":{"stroke":null}},
  {"width":176,"height":107,
   "encoding":{"x":{"field":"x","type":"quantitative","title":"x(kb)","scale":{"domain":[0,5450],"nice":false,"zero":false},"axis":{"values":[0,1000,2000,3000,4000,5000],"format":"d"}},"y":{"field":"y","type":"quantitative","title":"GC profile (bp)","scale":{"domain":[-16000,2000],"nice":false,"zero":false},"axis":{"values":[-16000,-14000,-12000,-10000,-8000,-6000,-4000,-2000,0,2000],"format":"d"}}},
   "layer":[
    {"data":{"name":"prof"},"transform":[{"filter":"datum.p=='B'"}],"mark":{"type":"line","strokeWidth":0.9,"clip":true},"encoding":{"detail":{"field":"s","type":"nominal"},"color":{"datum":"GC profile","scale":{"domain":["GC profile","Segmentation points"],"range":["#e3242b","#77bb44"]},"legend":{"title":null,"symbolType":"stroke","encode":{"symbols":{"update":{"shape":{"signal":"datum.value === 'Segmentation points' ? 'square' : 'stroke'"},"fill":{"value":"transparent"}}}}}}}},
    {"data":{"name":"prof"},"transform":[{"filter":"datum.p=='B'"}],"mark":{"type":"point","filled":true,"size":2,"color":"#7a1414","opacity":0.9,"clip":true}},
    {"data":{"name":"seg"},"transform":[{"filter":"datum.p=='B'"}],"mark":{"type":"point","shape":"square","filled":false,"size":16,"strokeWidth":0.8,"opacity":1},"encoding":{"color":{"datum":"Segmentation points"}}},
    {"data":{"name":"box"},"transform":[{"filter":"datum.p=='B'"}],"mark":{"type":"rect","fillOpacity":0,"stroke":"#4a7eb0","strokeWidth":1},"encoding":{"x2":{"field":"x2"},"y2":{"field":"y2"}}},
    {"data":{"name":"lab"},"transform":[{"filter":"datum.p=='B'"}],"mark":{"type":"text","fontSize":10,"color":"#222222"},"encoding":{"text":{"field":"t"}}}
   ]},
  {"width":72,"height":1,"data":{"values":[{}]},"mark":{"type":"text","text":""},"view":{"stroke":null}},
  {"width":203,"height":105,
   "encoding":{"x":{"field":"x","type":"quantitative","title":"x(kb)","scale":{"domain":[0,4500],"nice":false,"zero":false},"axis":{"values":[0,500,1000,1500,2000,2500,3000,3500,4000,4500],"format":"d"}},"y":{"field":"y","type":"quantitative","title":"GC profile (bp)","scale":{"domain":[-16000,2000],"nice":false,"zero":false},"axis":{"values":[-16000,-14000,-12000,-10000,-8000,-6000,-4000,-2000,0,2000],"format":"d"}}},
   "layer":[
    {"data":{"name":"prof"},"transform":[{"filter":"datum.p=='C'"}],"mark":{"type":"line","strokeWidth":0.9,"clip":true},"encoding":{"detail":{"field":"s","type":"nominal"},"color":{"datum":"GC profile","scale":{"domain":["GC profile","Segmentation points"],"range":["#e3242b","#77bb44"]},"legend":{"title":null,"symbolType":"stroke","encode":{"symbols":{"update":{"shape":{"signal":"datum.value === 'Segmentation points' ? 'square' : 'stroke'"},"fill":{"value":"transparent"}}}}}}}},
    {"data":{"name":"prof"},"transform":[{"filter":"datum.p=='C'"}],"mark":{"type":"point","filled":true,"size":2,"color":"#7a1414","opacity":0.9,"clip":true}},
    {"data":{"name":"seg"},"transform":[{"filter":"datum.p=='C'"}],"mark":{"type":"point","shape":"square","filled":false,"size":16,"strokeWidth":0.8,"opacity":1},"encoding":{"color":{"datum":"Segmentation points"}}},
    {"data":{"name":"box"},"transform":[{"filter":"datum.p=='C'"}],"mark":{"type":"rect","fillOpacity":0,"stroke":"#4a7eb0","strokeWidth":1},"encoding":{"x2":{"field":"x2"},"y2":{"field":"y2"}}},
    {"data":{"name":"arr"},"transform":[{"filter":"datum.p=='C'"}],"mark":{"type":"rule","color":"#4a7eb0","strokeWidth":1.2},"encoding":{"y2":{"field":"y2"}}},
    {"data":{"name":"arr"},"transform":[{"filter":"datum.p=='C'"}],"mark":{"type":"point","shape":"triangle-up","filled":true,"color":"#4a7eb0","size":22,"opacity":1},"encoding":{"y":{"field":"y2","type":"quantitative","title":"GC profile (bp)"}}},
    {"data":{"name":"lab"},"transform":[{"filter":"datum.p=='C'"}],"mark":{"type":"text","fontSize":10,"color":"#222222"},"encoding":{"text":{"field":"t"}}}
   ]},
  {"width":19,"height":17,"data":{"values":[{}]},"mark":{"type":"text","text":""},"view":{"stroke":null}},
  {"width":1,"height":1,"data":{"values":[{}]},"mark":{"type":"text","text":""},"view":{"stroke":null}},
  {"width":1,"height":1,"data":{"values":[{}]},"mark":{"type":"text","text":""},"view":{"stroke":null}},
  {"width":1,"height":1,"data":{"values":[{}]},"mark":{"type":"text","text":""},"view":{"stroke":null}},
  {"width":1,"height":1,"data":{"values":[{}]},"mark":{"type":"text","text":""},"view":{"stroke":null}},
  {"width":1,"height":1,"data":{"values":[{}]},"mark":{"type":"text","text":""},"view":{"stroke":null}},
  {"width":19,"height":1,"data":{"values":[{}]},"mark":{"type":"text","text":""},"view":{"stroke":null}},
  {"width":169,"height":55,"data":{"name":"cont"},"transform":[{"filter":"datum.p=='A'"}],"mark":{"type":"line","interpolate":"step-after","strokeWidth":0.8,"clip":true},"encoding":{"x":{"field":"x","type":"quantitative","title":"x(bp)","scale":{"domain":[0,4530000],"nice":false,"zero":false},"axis":{"values":[0,500000,1000000,1500000,2000000,2500000,3000000,3500000,4000000,4500000],"labelExpr":"datum.value < 1000000 ? toString(datum.value) : replace(format(datum.value, '~e'), 'e+', 'e+0')"}},"y":{"field":"y","type":"quantitative","title":"GC content","scale":{"domain":[0.325,0.365],"nice":false,"zero":false},"axis":{"values":[0.325,0.33,0.335,0.34,0.345,0.35,0.355,0.36,0.365],"labelExpr":"replace(toString(datum.value), '.', ',')"}},"detail":{"field":"s","type":"nominal"},"color":{"datum":"GC content","scale":{"range":["#ef5a5f"]},"legend":{"title":null,"symbolType":"stroke"}}},
   "title":{"text":["A. Abp1, Schizosaccharomyces pombe 972h-","chromosome II, SPBC1105.04c  (3510427..3512444)"],"subtitle":"NC_003423.3","fontSize":9.2,"fontWeight":"bold","lineHeight":13,"subtitleFontSize":9,"subtitleFontWeight":"normal","subtitlePadding":3,"dx":-14,"offset":4}},
  {"width":48,"height":1,"data":{"values":[{}]},"mark":{"type":"text","text":""},"view":{"stroke":null}},
  {"width":175,"height":56,"data":{"name":"cont"},"transform":[{"filter":"datum.p=='B'"}],"mark":{"type":"line","interpolate":"step-after","strokeWidth":0.8,"clip":true},"encoding":{"x":{"field":"x","type":"quantitative","title":"x(bp)","scale":{"domain":[0,5450000],"nice":false,"zero":false},"axis":{"values":[0,1000000,2000000,3000000,4000000,5000000],"labelExpr":"datum.value < 1000000 ? toString(datum.value) : replace(format(datum.value, '~e'), 'e+', 'e+0')"}},"y":{"field":"y","type":"quantitative","title":"GC content","scale":{"domain":[0.325,0.365],"nice":false,"zero":false},"axis":{"values":[0.325,0.33,0.335,0.34,0.345,0.35,0.355,0.36,0.365],"labelExpr":"replace(toString(datum.value), '.', ',')"}},"detail":{"field":"s","type":"nominal"},"color":{"datum":"GC content","scale":{"range":["#ef5a5f"]},"legend":{"title":null,"symbolType":"stroke"}}},
   "title":{"text":"\u00a0\u00a0\u00a0\u00a0\u00a0\u00a0\u00a0\u00a0\u00a0\u00a0\u00a0(Gene locus: 1-5000000)","subtitle":["B. Cbh1; Schizosaccharomyces  pombe 972h-","chromosome I, complete sequence NC_003424.3","(4458920..4460959)"],"fontSize":9.5,"fontWeight":"normal","subtitleFontSize":8.5,"subtitleFontWeight":"bold","subtitleLineHeight":12,"subtitlePadding":13,"dx":0,"offset":-6}},
  {"width":72,"height":1,"data":{"values":[{}]},"mark":{"type":"text","text":""},"view":{"stroke":null}},
  {"width":202,"height":55,"data":{"name":"cont"},"transform":[{"filter":"datum.p=='C'"}],"mark":{"type":"line","interpolate":"step-after","strokeWidth":0.8,"clip":true},"encoding":{"x":{"field":"x","type":"quantitative","title":"x(bp)","scale":{"domain":[0,4510000],"nice":false,"zero":false},"axis":{"values":[0,500000,1000000,1500000,2000000,2500000,3000000,3500000,4000000,4500000],"labelExpr":"datum.value < 1000000 ? toString(datum.value) : replace(format(datum.value, '~e'), 'e+', 'e+0')"}},"y":{"field":"y","type":"quantitative","title":"GC content","scale":{"domain":[0.325,0.365],"nice":false,"zero":false},"axis":{"values":[0.325,0.33,0.335,0.34,0.345,0.35,0.355,0.36,0.365],"labelExpr":"replace(toString(datum.value), '.', ',')"}},"detail":{"field":"s","type":"nominal"},"color":{"datum":"GC content","scale":{"range":["#ef5a5f"]},"legend":{"title":null,"symbolType":"stroke"}}},
   "title":{"text":"\u00a0\u00a0\u00a0\u00a0\u00a0\u00a0\u00a0\u00a0\u00a0\u00a0\u00a0\u00a0\u00a0\u00a0\u00a0\u00a0\u00a0\u00a0\u00a0\u00a0\u00a0\u00a0\u00a0\u00a0\u00a0\u00a0\u00a04180000-4210000","subtitle":["C. Cbh2, Schizosaccharomyces pombe 972h-","chromosome II, complete sequence, NC_003423.3","(4180737..4182642)"],"fontSize":9.5,"fontWeight":"normal","subtitleFontSize":9,"subtitleFontWeight":"bold","subtitleLineHeight":13,"subtitlePadding":3,"dx":-19,"offset":-1}}
 ]},
 {"spacing": 14,
  "resolve": {"scale": {"color": "independent", "shape": "independent"}, "legend": {"color": "independent", "shape": "independent"}},
  "vconcat": [
  {"columns": 6, "align": "each", "bounds": "flush", "spacing": 0,
   "resolve": {"scale": {"color": "independent", "shape": "independent"}, "legend": {"color": "independent", "shape": "independent"}},
   "concat": [
   {"width":23,"height":1,"data":{"values":[{}]},"mark":{"type":"text","text":""},"view":{"stroke":null}},
   {"width":169,"height":112,
    "encoding":{"x":{"field":"x","type":"quantitative","title":"x(kb)","scale":{"domain":[0,4620],"nice":false,"zero":false},"axis":{"values":[0,500,1000,1500,2000,2500,3000,3500,4000,4500],"format":"d"}},"y":{"field":"y","type":"quantitative","title":"GC profile (bp)","scale":{"domain":[-4000,4000],"nice":false,"zero":false},"axis":{"values":[-4000,-3000,-2000,-1000,0,1000,2000,3000,4000],"format":"d"}}},
    "layer":[
     {"data":{"name":"prof"},"transform":[{"filter":"datum.p=='D'"}],"mark":{"type":"line","strokeWidth":0.9,"clip":true},"encoding":{"detail":{"field":"s","type":"nominal"},"color":{"datum":"GC profile","scale":{"range":["#e3242b"]},"legend":{"title":null,"symbolType":"stroke"}}}},
     {"data":{"name":"prof"},"transform":[{"filter":"datum.p=='D'"}],"mark":{"type":"point","filled":true,"size":2,"color":"#7a1414","opacity":0.9,"clip":true}},
     {"data":{"name":"box"},"transform":[{"filter":"datum.p=='D'"}],"mark":{"type":"rect","fillOpacity":0,"stroke":"#4a7eb0","strokeWidth":1},"encoding":{"x2":{"field":"x2"},"y2":{"field":"y2"}}},
     {"data":{"name":"lab"},"transform":[{"filter":"datum.p=='D'"}],"mark":{"type":"text","fontSize":8.5,"color":"#222222"},"encoding":{"text":{"field":"t"}}}
    ]},
   {"width":44,"height":1,"data":{"values":[{}]},"mark":{"type":"text","text":""},"view":{"stroke":null}},
   {"width":198,"height":111,
    "encoding":{"x":{"field":"x","type":"quantitative","title":"x(kb)","scale":{"domain":[0,3880],"nice":false,"zero":false},"axis":{"values":[0,500,1000,1500,2000,2500,3000,3500],"format":"d"}},"y":{"field":"y","type":"quantitative","title":"GC profile (bp)","scale":{"domain":[-4000,3000],"nice":false,"zero":false},"axis":{"values":[-4000,-3000,-2000,-1000,0,1000,2000,3000],"format":"d"}}},
    "layer":[
     {"data":{"name":"prof"},"transform":[{"filter":"datum.p=='E'"}],"mark":{"type":"line","strokeWidth":0.9,"clip":true},"encoding":{"detail":{"field":"s","type":"nominal"},"color":{"datum":"GC profile","scale":{"range":["#e3242b"]},"legend":{"title":null,"symbolType":"stroke"}}}},
     {"data":{"name":"prof"},"transform":[{"filter":"datum.p=='E'"}],"mark":{"type":"point","filled":true,"size":2,"color":"#7a1414","opacity":0.9,"clip":true}},
     {"data":{"name":"box"},"transform":[{"filter":"datum.p=='E'"}],"mark":{"type":"rect","fillOpacity":0,"stroke":"#4a7eb0","strokeWidth":1},"encoding":{"x2":{"field":"x2"},"y2":{"field":"y2"}}},
     {"data":{"name":"lab"},"transform":[{"filter":"datum.p=='E'"}],"mark":{"type":"text","fontSize":8.5,"color":"#222222"},"encoding":{"text":{"field":"t"}}}
    ]},
   {"width":53,"height":1,"data":{"values":[{}]},"mark":{"type":"text","text":""},"view":{"stroke":null}},
   {"width":201,"height":103,
    "encoding":{"x":{"field":"x","type":"quantitative","title":"x(kb)","scale":{"domain":[0,3080],"nice":false,"zero":false},"axis":{"values":[0,500,1000,1500,2000,2500,3000],"format":"d"}},"y":{"field":"y","type":"quantitative","title":"GC profile (bp)","scale":{"domain":[-30000,60000],"nice":false,"zero":false},"axis":{"values":[-30000,-20000,-10000,0,10000,20000,30000,40000,50000,60000],"format":"d"}}},
    "layer":[
     {"data":{"name":"prof"},"transform":[{"filter":"datum.p=='F'"}],"mark":{"type":"line","strokeWidth":0.9,"clip":true},"encoding":{"detail":{"field":"s","type":"nominal"},"color":{"datum":"GC profile","scale":{"domain":["GC profile","Segmentation points"],"range":["#e3242b","#77bb44"]},"legend":{"title":null,"symbolType":"stroke","encode":{"symbols":{"update":{"shape":{"signal":"datum.value === 'Segmentation points' ? 'square' : 'stroke'"},"fill":{"value":"transparent"}}}}}}}},
     {"data":{"name":"prof"},"transform":[{"filter":"datum.p=='F'"}],"mark":{"type":"point","filled":true,"size":2,"color":"#7a1414","opacity":0.9,"clip":true}},
     {"data":{"name":"seg"},"transform":[{"filter":"datum.p=='F'"}],"mark":{"type":"point","shape":"square","filled":false,"size":16,"strokeWidth":0.8,"opacity":1},"encoding":{"color":{"datum":"Segmentation points"}}},
     {"data":{"name":"box"},"transform":[{"filter":"datum.p=='F'"}],"mark":{"type":"rect","fillOpacity":0,"stroke":"#4a7eb0","strokeWidth":1},"encoding":{"x2":{"field":"x2"},"y2":{"field":"y2"}}},
     {"data":{"name":"lab"},"transform":[{"filter":"datum.p=='F'"}],"mark":{"type":"text","fontSize":8.5,"color":"#222222"},"encoding":{"text":{"field":"t"}}}
    ]},
   {"width":23,"height":15,"data":{"values":[{}]},"mark":{"type":"text","text":""},"view":{"stroke":null}},
   {"width":1,"height":1,"data":{"values":[{}]},"mark":{"type":"text","text":""},"view":{"stroke":null}},
   {"width":1,"height":1,"data":{"values":[{}]},"mark":{"type":"text","text":""},"view":{"stroke":null}},
   {"width":1,"height":1,"data":{"values":[{}]},"mark":{"type":"text","text":""},"view":{"stroke":null}},
   {"width":1,"height":1,"data":{"values":[{}]},"mark":{"type":"text","text":""},"view":{"stroke":null}},
   {"width":1,"height":1,"data":{"values":[{}]},"mark":{"type":"text","text":""},"view":{"stroke":null}},
   {"width":23,"height":1,"data":{"values":[{}]},"mark":{"type":"text","text":""},"view":{"stroke":null}},
   {"width":169,"height":65,"data":{"name":"cont"},"transform":[{"filter":"datum.p=='D'"}],"mark":{"type":"line","interpolate":"step-after","strokeWidth":0.8,"clip":true},"encoding":{"x":{"field":"x","type":"quantitative","title":"x(bp)","scale":{"domain":[0,4620000],"nice":false,"zero":false},"axis":{"values":[0,500000,1000000,1500000,2000000,2500000,3000000,3500000,4000000,4500000],"labelExpr":"datum.value < 1000000 ? toString(datum.value) : replace(format(datum.value, '~e'), 'e+', 'e+0')"}},"y":{"field":"y","type":"quantitative","title":"GC content","scale":{"domain":[0.3763,0.3766],"nice":false,"zero":false},"axis":{"values":[0.3763,0.37635,0.3764,0.37645,0.3765,0.37655,0.3766],"labelExpr":"replace(toString(datum.value), '.', ',')"}},"detail":{"field":"s","type":"nominal"},"color":{"datum":"GC content","scale":{"range":["#ef5a5f"]},"legend":{"title":null,"symbolType":"stroke"}}},
    "title":{"text":["D. Schizosaccharomyces octosporus yFS286 unplaced","genomic scaffold supercont6.1(1908286..1910565)"],"subtitle":"SOCG_03404, NW_013185619","fontSize":8,"fontWeight":"bold","lineHeight":13,"subtitleFontSize":8,"subtitleFontWeight":"normal","subtitlePadding":5,"dx":-20,"offset":1}},
   {"width":44,"height":1,"data":{"values":[{}]},"mark":{"type":"text","text":""},"view":{"stroke":null}},
   {"width":198,"height":65,"data":{"name":"cont"},"transform":[{"filter":"datum.p=='E'"}],"mark":{"type":"line","interpolate":"step-after","strokeWidth":0.8,"clip":true},"encoding":{"x":{"field":"x","type":"quantitative","title":"x(bp)","scale":{"domain":[0,3880000],"nice":false,"zero":false},"axis":{"values":[0,500000,1000000,1500000,2000000,2500000,3000000,3500000],"labelExpr":"datum.value < 1000000 ? toString(datum.value) : replace(format(datum.value, '~e'), 'e+', 'e+0')"}},"y":{"field":"y","type":"quantitative","title":"GC content","scale":{"domain":[0.3754,0.3765],"nice":false,"zero":false},"axis":{"values":[0.3754,0.3755,0.3756,0.3757,0.3758,0.3759,0.376,0.3761,0.3762,0.3763,0.3764,0.3765],"labelExpr":"replace(toString(datum.value), '.', ',')"}},"detail":{"field":"s","type":"nominal"},"color":{"datum":"GC content","scale":{"range":["#ef5a5f"]},"legend":{"title":null,"symbolType":"stroke"}}},
    "title":{"text":["E. Schizosaccharomyces octosporus yFS286 unplaced","genomic scaffold supercont6.2.(12146-13202)  SOCG_04915"],"fontSize":8,"fontWeight":"bold","lineHeight":13,"dx":-14,"offset":1}},
   {"width":53,"height":1,"data":{"values":[{}]},"mark":{"type":"text","text":""},"view":{"stroke":null}},
   {"width":201,"height":53,"data":{"name":"cont"},"transform":[{"filter":"datum.p=='F'"}],"mark":{"type":"line","interpolate":"step-after","strokeWidth":0.8,"clip":true},"encoding":{"x":{"field":"x","type":"quantitative","title":"x(bp)","scale":{"domain":[0,3080000],"nice":false,"zero":false},"axis":{"values":[0,500000,1000000,1500000,2000000,2500000,3000000],"labelExpr":"datum.value < 1000000 ? toString(datum.value) : replace(format(datum.value, '~e'), 'e+', 'e+0')"}},"y":{"field":"y","type":"quantitative","title":"GC content","scale":{"domain":[0.33,0.38],"nice":false,"zero":false},"axis":{"values":[0.33,0.335,0.34,0.345,0.35,0.355,0.36,0.365,0.37,0.375,0.38],"labelExpr":"replace(toString(datum.value), '.', ',')"}},"detail":{"field":"s","type":"nominal"},"color":{"datum":"GC content","scale":{"range":["#ef5a5f"]},"legend":{"title":null,"symbolType":"stroke"}}},
    "title":{"text":["F. Schizosaccharomyces  octosporus yFS286","unplaced genomic  scaffold supercont6.2"],"subtitle":"KE503207.1 (SOCG_00803)","fontSize":9.2,"fontWeight":"bold","lineHeight":13,"subtitleFontSize":9,"subtitleFontWeight":"normal","subtitlePadding":4,"dx":3,"offset":15}}
  ]},
  {"spacing": -8,
   "resolve": {"scale": {"color": "independent", "shape": "independent"}, "legend": {"color": "independent", "shape": "independent"}},
   "vconcat": [
   {"columns": 6, "align": "each", "bounds": "flush", "spacing": 0,
    "resolve": {"scale": {"color": "independent", "shape": "independent"}, "legend": {"color": "independent", "shape": "independent"}},
    "concat": [
    {"width":28,"height":1,"data":{"values":[{}]},"mark":{"type":"text","text":""},"view":{"stroke":null}},
    {"width":200,"height":125,
     "encoding":{"x":{"field":"x","type":"quantitative","title":"x(kb)","scale":{"domain":[0,2900],"nice":false,"zero":false},"axis":{"values":[0,500,1000,1500,2000,2500],"format":"d"}},"y":{"field":"y","type":"quantitative","title":"GC profile (bp)","scale":{"domain":[-7000,1000],"nice":false,"zero":false},"axis":{"values":[-7000,-6000,-5000,-4000,-3000,-2000,-1000,0,1000],"format":"d"}}},
     "layer":[
      {"data":{"name":"prof"},"transform":[{"filter":"datum.p=='G'"}],"mark":{"type":"line","strokeWidth":0.9,"clip":true},"encoding":{"detail":{"field":"s","type":"nominal"},"color":{"datum":"GC profile","scale":{"range":["#e3242b"]},"legend":{"title":null,"symbolType":"stroke"}}}},
      {"data":{"name":"prof"},"transform":[{"filter":"datum.p=='G'"}],"mark":{"type":"point","filled":true,"size":2,"color":"#7a1414","opacity":0.9,"clip":true}},
      {"data":{"name":"box"},"transform":[{"filter":"datum.p=='G'"}],"mark":{"type":"rect","fillOpacity":0,"stroke":"#4a7eb0","strokeWidth":1},"encoding":{"x2":{"field":"x2"},"y2":{"field":"y2"}}},
      {"data":{"name":"lab"},"transform":[{"filter":"datum.p=='G'"}],"mark":{"type":"text","fontSize":8.5,"color":"#222222"},"encoding":{"text":{"field":"t"}}}
     ]},
    {"width":38,"height":1,"data":{"values":[{}]},"mark":{"type":"text","text":""},"view":{"stroke":null}},
    {"width":202,"height":123,
     "encoding":{"x":{"field":"x","type":"quantitative","title":"x(kb)","scale":{"domain":[0,1005],"nice":false,"zero":false},"axis":{"values":[0,200,400,600,800,1000],"format":"d"}},"y":{"field":"y","type":"quantitative","title":"GC profile (bp)","scale":{"domain":[-4000,3000],"nice":false,"zero":false},"axis":{"values":[-4000,-3000,-2000,-1000,0,1000,2000,3000],"format":"d"}}},
     "layer":[
      {"data":{"name":"prof"},"transform":[{"filter":"datum.p=='H'"}],"mark":{"type":"line","strokeWidth":0.9,"clip":true},"encoding":{"detail":{"field":"s","type":"nominal"},"color":{"datum":"GC profile","scale":{"range":["#e3242b"]},"legend":{"title":null,"symbolType":"stroke"}}}},
      {"data":{"name":"prof"},"transform":[{"filter":"datum.p=='H'"}],"mark":{"type":"point","filled":true,"size":2,"color":"#7a1414","opacity":0.9,"clip":true}},
      {"data":{"name":"box"},"transform":[{"filter":"datum.p=='H'"}],"mark":{"type":"rect","fillOpacity":0,"stroke":"#4a7eb0","strokeWidth":1},"encoding":{"x2":{"field":"x2"},"y2":{"field":"y2"}}},
      {"data":{"name":"lab"},"transform":[{"filter":"datum.p=='H'"}],"mark":{"type":"text","fontSize":8.5,"color":"#222222"},"encoding":{"text":{"field":"t"}}}
     ]},
    {"width":37,"height":1,"data":{"values":[{}]},"mark":{"type":"text","text":""},"view":{"stroke":null}},
    {"width":194,"height":123,
     "encoding":{"x":{"field":"x","type":"quantitative","title":"x(kb)","scale":{"domain":[0,1420],"nice":false,"zero":false},"axis":{"values":[0,200,400,600,800,1000,1200],"format":"d"}},"y":{"field":"y","type":"quantitative","title":"GC profile (bp)","scale":{"domain":[-5000,500],"nice":false,"zero":false},"axis":{"values":[-5000,-4500,-4000,-3500,-3000,-2500,-2000,-1500,-1000,-500,0,500],"format":"d"}}},
     "layer":[
      {"data":{"name":"prof"},"transform":[{"filter":"datum.p=='I'"}],"mark":{"type":"line","strokeWidth":0.9,"clip":true},"encoding":{"detail":{"field":"s","type":"nominal"},"color":{"datum":"GC profile","scale":{"range":["#e3242b"]},"legend":{"title":null,"symbolType":"stroke"}}}},
      {"data":{"name":"prof"},"transform":[{"filter":"datum.p=='I'"}],"mark":{"type":"point","filled":true,"size":2,"color":"#7a1414","opacity":0.9,"clip":true}},
      {"data":{"name":"box"},"transform":[{"filter":"datum.p=='I'"}],"mark":{"type":"rect","fillOpacity":0,"stroke":"#4a7eb0","strokeWidth":1},"encoding":{"x2":{"field":"x2"},"y2":{"field":"y2"}}},
      {"data":{"name":"lab"},"transform":[{"filter":"datum.p=='I'"}],"mark":{"type":"text","fontSize":8.5,"color":"#222222"},"encoding":{"text":{"field":"t"}}}
     ]},
    {"width":28,"height":16,"data":{"values":[{}]},"mark":{"type":"text","text":""},"view":{"stroke":null}},
    {"width":1,"height":1,"data":{"values":[{}]},"mark":{"type":"text","text":""},"view":{"stroke":null}},
    {"width":1,"height":1,"data":{"values":[{}]},"mark":{"type":"text","text":""},"view":{"stroke":null}},
    {"width":1,"height":1,"data":{"values":[{}]},"mark":{"type":"text","text":""},"view":{"stroke":null}},
    {"width":1,"height":1,"data":{"values":[{}]},"mark":{"type":"text","text":""},"view":{"stroke":null}},
    {"width":1,"height":1,"data":{"values":[{}]},"mark":{"type":"text","text":""},"view":{"stroke":null}},
    {"width":28,"height":1,"data":{"values":[{}]},"mark":{"type":"text","text":""},"view":{"stroke":null}},
    {"width":200,"height":71,"data":{"name":"cont"},"transform":[{"filter":"datum.p=='G'"}],"mark":{"type":"line","interpolate":"step-after","strokeWidth":0.8,"clip":true},"encoding":{"x":{"field":"x","type":"quantitative","title":"x(bp)","scale":{"domain":[0,2900000],"nice":false,"zero":false},"axis":{"values":[0,500000,1000000,1500000,2000000,2500000],"labelExpr":"datum.value < 1000000 ? toString(datum.value) : replace(format(datum.value, '~e'), 'e+', 'e+0')"}},"y":{"field":"y","type":"quantitative","title":"GC content","scale":{"domain":[0.373,0.382],"nice":false,"zero":false},"axis":{"values":[0.373,0.374,0.375,0.376,0.377,0.378,0.379,0.38,0.381,0.382],"labelExpr":"replace(toString(datum.value), '.', ',')"}},"detail":{"field":"s","type":"nominal"},"color":{"datum":"GC content","scale":{"range":["#ef5a5f"]},"legend":{"title":null,"symbolType":"stroke"}}},
     "title":{"text":"G. Schizosaccharomyces cryophilus OY26 unplaced genomic scaffold","subtitle":"supercont4.1 (366803..368221) NW_013185624 (SPOG_03735)","fontSize":6.8,"fontWeight":"bold","subtitleFontSize":7.5,"subtitleFontWeight":"normal","subtitlePadding":5,"dx":-25,"offset":2}},
    {"width":38,"height":1,"data":{"values":[{}]},"mark":{"type":"text","text":""},"view":{"stroke":null}},
    {"width":202,"height":71,"data":{"name":"cont"},"transform":[{"filter":"datum.p=='H'"}],"mark":{"type":"line","interpolate":"step-after","strokeWidth":0.8,"clip":true},"encoding":{"x":{"field":"x","type":"quantitative","title":"x(bp)","scale":{"domain":[0,1005000],"nice":false,"zero":false},"axis":{"values":[0,200000,400000,600000,800000,1000000],"labelExpr":"datum.value < 1000000 ? toString(datum.value) : replace(format(datum.value, '~e'), 'e+', 'e+0')"}},"y":{"field":"y","type":"quantitative","title":"GC content","scale":{"domain":[0.373,0.382],"nice":false,"zero":false},"axis":{"values":[0.373,0.374,0.375,0.376,0.377,0.378,0.379,0.38,0.381,0.382],"labelExpr":"replace(toString(datum.value), '.', ',')"}},"detail":{"field":"s","type":"nominal"},"color":{"datum":"GC content","scale":{"range":["#ef5a5f"]},"legend":{"title":null,"symbolType":"stroke"}}},
     "title":{"text":["H. SPOG_05200 Schizosaccharomyces cryophilus OY26","unplaced genomic scaffold supercont4.6 (675712..677677)"],"fontSize":8.2,"fontWeight":"bold","lineHeight":12,"dx":-19,"offset":2}},
    {"width":37,"height":1,"data":{"values":[{}]},"mark":{"type":"text","text":""},"view":{"stroke":null}},
    {"width":194,"height":71,"data":{"name":"cont"},"transform":[{"filter":"datum.p=='I'"}],"mark":{"type":"line","interpolate":"step-after","strokeWidth":0.8,"clip":true},"encoding":{"x":{"field":"x","type":"quantitative","title":"x(bp)","scale":{"domain":[0,1420000],"nice":false,"zero":false},"axis":{"values":[0,200000,400000,600000,800000,1000000,1200000],"labelExpr":"datum.value < 1000000 ? toString(datum.value) : replace(format(datum.value, '~e'), 'e+', 'e+0')"}},"y":{"field":"y","type":"quantitative","title":"GC content","scale":{"domain":[0.374,0.383],"nice":false,"zero":false},"axis":{"values":[0.374,0.375,0.376,0.377,0.378,0.379,0.38,0.381,0.382,0.383],"labelExpr":"replace(toString(datum.value), '.', ',')"}},"detail":{"field":"s","type":"nominal"},"color":{"datum":"GC content","scale":{"range":["#ef5a5f"]},"legend":{"title":null,"symbolType":"stroke"}}},
     "title":{"text":["I. (NW_013185626.1) Schizosaccharomyces cryophilus","OY26 unplaced genomic scaffold","supercont4.3  KE546990 (1360860..1363219)"],"fontSize":7.8,"fontWeight":"bold","lineHeight":13,"dx":-17,"offset":2}}
   ]},
   {"columns": 4, "align": "each", "bounds": "flush", "spacing": 0,
    "resolve": {"scale": {"color": "independent", "shape": "independent"}, "legend": {"color": "independent", "shape": "independent"}},
    "concat": [
    {"width":26,"height":1,"data":{"values":[{}]},"mark":{"type":"text","text":""},"view":{"stroke":null}},
    {"width":206,"height":116,
     "encoding":{"x":{"field":"x","type":"quantitative","title":"x(kb)","scale":{"domain":[0,2900],"nice":false,"zero":false},"axis":{"values":[0,500,1000,1500,2000,2500],"format":"d"}},"y":{"field":"y","type":"quantitative","title":"GC profile (bp)","scale":{"domain":[-7000,1000],"nice":false,"zero":false},"axis":{"values":[-7000,-6000,-5000,-4000,-3000,-2000,-1000,0,1000],"format":"d"}}},
     "layer":[
      {"data":{"name":"prof"},"transform":[{"filter":"datum.p=='G'"}],"mark":{"type":"line","strokeWidth":0.9,"clip":true},"encoding":{"detail":{"field":"s","type":"nominal"},"color":{"datum":"GC profile","scale":{"range":["#e3242b"]},"legend":{"title":null,"symbolType":"stroke"}}}},
      {"data":{"name":"prof"},"transform":[{"filter":"datum.p=='G'"}],"mark":{"type":"point","filled":true,"size":2,"color":"#7a1414","opacity":0.9,"clip":true}},
      {"data":{"name":"box"},"transform":[{"filter":"datum.p=='J'"}],"mark":{"type":"rect","fillOpacity":0,"stroke":"#4a7eb0","strokeWidth":1},"encoding":{"x2":{"field":"x2"},"y2":{"field":"y2"}}},
      {"data":{"name":"lab"},"transform":[{"filter":"datum.p=='J'"}],"mark":{"type":"text","fontSize":8.5,"color":"#222222"},"encoding":{"text":{"field":"t"}}}
     ]},
    {"width":31,"height":1,"data":{"values":[{}]},"mark":{"type":"text","text":""},"view":{"stroke":null}},
    {"width":214,"height":119,
     "encoding":{"x":{"field":"x","type":"quantitative","title":"x(kb)","scale":{"domain":[0,1207],"nice":false,"zero":false},"axis":{"values":[0,200,400,600,800,1000,1200],"format":"d"}},"y":{"field":"y","type":"quantitative","title":"GC profile (bp)","scale":{"domain":[-8000,0],"nice":false,"zero":false},"axis":{"values":[-8000,-7000,-6000,-5000,-4000,-3000,-2000,-1000,0],"format":"d"}}},
     "layer":[
      {"data":{"name":"prof"},"transform":[{"filter":"datum.p=='K'"}],"mark":{"type":"line","strokeWidth":0.9,"clip":true},"encoding":{"detail":{"field":"s","type":"nominal"},"color":{"datum":"GC profile","scale":{"domain":["GC profile","Segmentation points"],"range":["#e3242b","#77bb44"]},"legend":{"title":null,"symbolType":"stroke","encode":{"symbols":{"update":{"shape":{"signal":"datum.value === 'Segmentation points' ? 'square' : 'stroke'"},"fill":{"value":"transparent"}}}}}}}},
      {"data":{"name":"prof"},"transform":[{"filter":"datum.p=='K'"}],"mark":{"type":"point","filled":true,"size":2,"color":"#7a1414","opacity":0.9,"clip":true}},
      {"data":{"name":"seg"},"transform":[{"filter":"datum.p=='K'"}],"mark":{"type":"point","shape":"square","filled":false,"size":16,"strokeWidth":0.8,"opacity":1},"encoding":{"color":{"datum":"Segmentation points"}}},
      {"data":{"name":"box"},"transform":[{"filter":"datum.p=='K'"}],"mark":{"type":"rect","fillOpacity":0,"stroke":"#4a7eb0","strokeWidth":1},"encoding":{"x2":{"field":"x2"},"y2":{"field":"y2"}}},
      {"data":{"name":"lab"},"transform":[{"filter":"datum.p=='K'"}],"mark":{"type":"text","fontSize":8.5,"color":"#222222"},"encoding":{"text":{"field":"t"}}}
     ]},
    {"width":26,"height":16,"data":{"values":[{}]},"mark":{"type":"text","text":""},"view":{"stroke":null}},
    {"width":1,"height":1,"data":{"values":[{}]},"mark":{"type":"text","text":""},"view":{"stroke":null}},
    {"width":1,"height":1,"data":{"values":[{}]},"mark":{"type":"text","text":""},"view":{"stroke":null}},
    {"width":1,"height":1,"data":{"values":[{}]},"mark":{"type":"text","text":""},"view":{"stroke":null}},
    {"width":26,"height":1,"data":{"values":[{}]},"mark":{"type":"text","text":""},"view":{"stroke":null}},
    {"width":206,"height":65,"data":{"name":"cont"},"transform":[{"filter":"datum.p=='G'"}],"mark":{"type":"line","interpolate":"step-after","strokeWidth":0.8,"clip":true},"encoding":{"x":{"field":"x","type":"quantitative","title":"x(bp)","scale":{"domain":[0,2900000],"nice":false,"zero":false},"axis":{"values":[0,500000,1000000,1500000,2000000,2500000],"labelExpr":"datum.value < 1000000 ? toString(datum.value) : replace(format(datum.value, '~e'), 'e+', 'e+0')"}},"y":{"field":"y","type":"quantitative","title":"GC content","scale":{"domain":[0.373,0.382],"nice":false,"zero":false},"axis":{"values":[0.373,0.374,0.375,0.376,0.377,0.378,0.379,0.38,0.381,0.382],"labelExpr":"replace(toString(datum.value), '.', ',')"}},"detail":{"field":"s","type":"nominal"},"color":{"datum":"GC content","scale":{"range":["#ef5a5f"]},"legend":{"title":null,"symbolType":"stroke"}}},
     "title":{"text":["J. NW_013185624.1| Schizosaccharomyces  cryophilus OY26","unplaced genomic scaffold supercont4.1"],"fontSize":7.7,"fontWeight":"bold","lineHeight":12,"dx":-19,"offset":9}},
    {"width":31,"height":1,"data":{"values":[{}]},"mark":{"type":"text","text":""},"view":{"stroke":null}},
    {"width":214,"height":74,"data":{"name":"cont"},"transform":[{"filter":"datum.p=='K'"}],"mark":{"type":"line","interpolate":"step-after","strokeWidth":0.8,"clip":true},"encoding":{"x":{"field":"x","type":"quantitative","title":"x(bp)","scale":{"domain":[0,1207000],"nice":false,"zero":false},"axis":{"values":[0,200000,400000,600000,800000,1000000,1200000],"labelExpr":"datum.value < 1000000 ? toString(datum.value) : replace(format(datum.value, '~e'), 'e+', 'e+0')"}},"y":{"field":"y","type":"quantitative","title":"GC content","scale":{"domain":[0.34,0.38],"nice":false,"zero":false},"axis":{"values":[0.34,0.345,0.35,0.355,0.36,0.365,0.37,0.375,0.38],"labelExpr":"replace(toString(datum.value), '.', ',')"}},"detail":{"field":"s","type":"nominal"},"color":{"datum":"GC content","scale":{"range":["#ef5a5f"]},"legend":{"title":null,"symbolType":"stroke"}}},
     "title":{"text":"K. SPOG_05336 Schizosaccharomyces cryophilus OY26 Supercont.4.4","fontSize":8,"fontWeight":"normal","dx":-3,"offset":3}}
   ]}
  ]}
 ]}
]
}
